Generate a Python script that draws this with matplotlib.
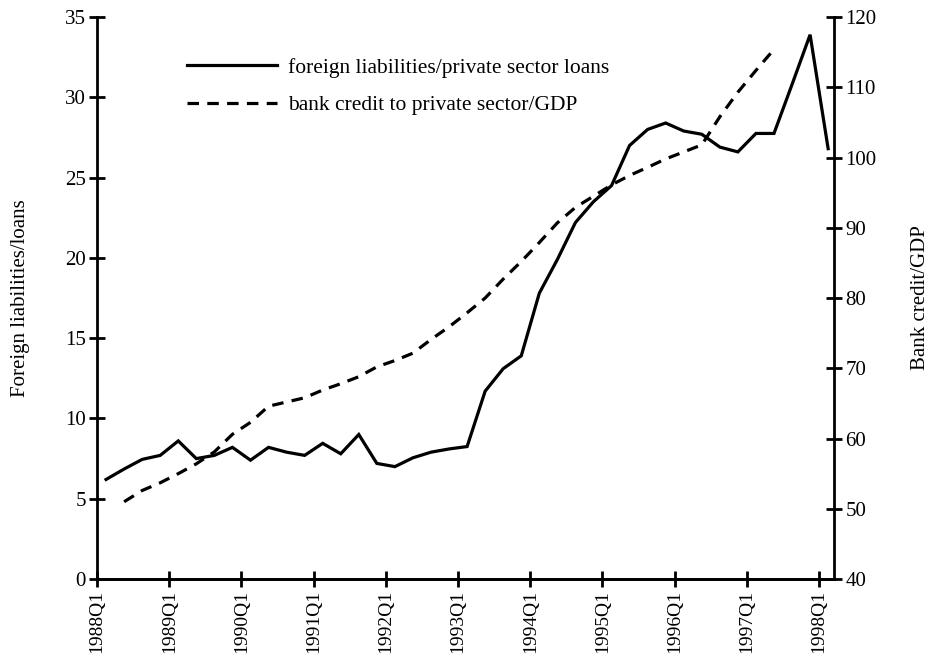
import numpy as np
import matplotlib.pyplot as plt

plt.rcParams['font.family'] = ['Liberation Serif', 'DejaVu Serif']

# quarterly series, 1988Q1 .. 1998Q1
years = list(range(1988, 1999))
tick_labels = [str(y) + 'Q1' for y in years]

# foreign liabilities / private sector loans (left axis), 1988Q1-1998Q1
foreign_liab = [6.2, 6.85, 7.45, 7.7, 8.6, 7.5, 7.7, 8.2, 7.4, 8.2,
                7.9, 7.7, 8.45, 7.8, 9.0, 7.2, 7.0, 7.55, 7.9, 8.1,
                8.25, 11.7, 13.1, 13.9, 17.8, 19.9, 22.2, 23.5, 24.5, 27.0,
                28.0, 28.4, 27.9, 27.7, 26.9, 26.6, 27.75, 27.75, 30.8, 33.9,
                26.8]

# bank credit to private sector / GDP (right axis), 1988Q2-1997Q2
bank_credit = [51.0, 52.6, 53.7, 55.0, 56.4, 58.1, 60.6, 62.3, 64.6, 65.2,
               65.8, 66.9, 67.8, 68.8, 70.2, 71.1, 72.15, 74.1, 75.9, 77.9,
               80.0, 82.7, 85.2, 87.9, 90.7, 92.9, 94.5, 96.1, 97.45, 98.6,
               99.8, 100.8, 101.8, 105.8, 109.3, 112.4, 115.4]
credit_start = 1  # first quarter index of the credit series

fig = plt.figure(figsize=(9.33, 6.6), dpi=100)
ax = fig.add_axes([0.104, 0.1227, 0.79, 0.8515])
ax2 = ax.twinx()

x1 = np.arange(len(foreign_liab)) + 0.5
x2 = np.arange(credit_start, credit_start + len(bank_credit)) + 0.5

l1, = ax.plot(x1, foreign_liab, color='black', lw=2.3, solid_joinstyle='miter')
l2, = ax2.plot(x2, bank_credit, color='black', lw=2.3, dashes=(3.6, 2.6))

ax.set_xlim(0, 40.83)
ax.set_ylim(0, 35)
ax2.set_ylim(40, 120)
ax.set_yticks(np.arange(0, 36, 5))
ax2.set_yticks(np.arange(40, 121, 10))
ax.set_xticks(np.arange(0, 41, 4))
ax.set_xticklabels(tick_labels, rotation=90)

for a in (ax, ax2):
    a.spines['top'].set_visible(False)
    for s in a.spines.values():
        s.set_linewidth(2.0)
    a.tick_params(direction='inout', length=12, width=2.0, labelsize=15, pad=2)
ax.tick_params(axis='x', labelsize=14)
ax.spines['right'].set_visible(False)
ax2.spines['left'].set_visible(False)

ax.set_ylabel('Foreign liabilities/loans', fontsize=15, labelpad=25)
ax2.set_ylabel('Bank credit/GDP', fontsize=15, labelpad=25)

ax.legend([l1, l2], ['foreign liabilities/private sector loans',
                     'bank credit to private sector/GDP'],
          loc='upper left', bbox_to_anchor=(0.122, 0.928), frameon=False,
          fontsize=15.5, handlelength=4.2, handletextpad=0.5,
          labelspacing=0.83, borderpad=0, borderaxespad=0)

fig.savefig('out.png', dpi=100)
